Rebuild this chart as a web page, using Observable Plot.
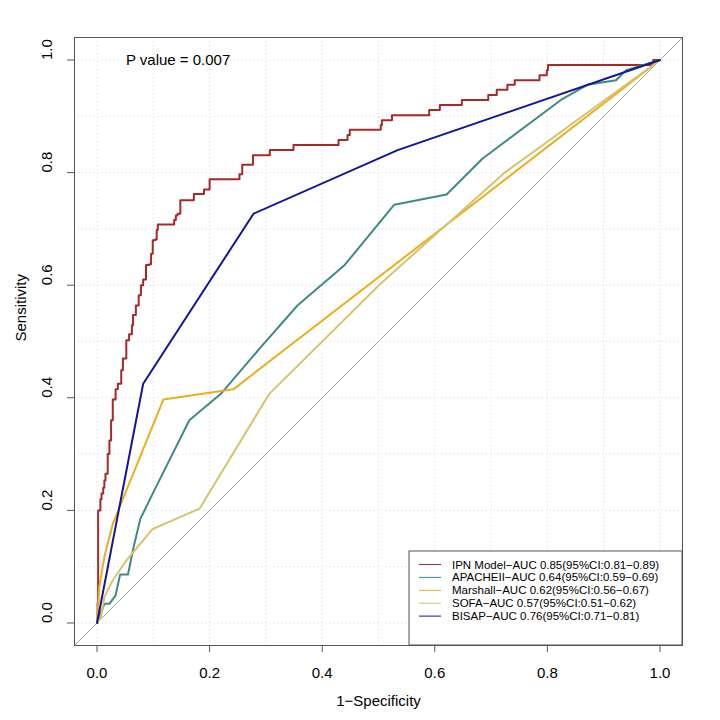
<!DOCTYPE html>
<html><head><meta charset="utf-8">
<script src="https://cdn.jsdelivr.net/npm/d3@7"></script>
<script src="https://cdn.jsdelivr.net/npm/@observablehq/plot@0.6"></script>
<style>body{margin:0;background:#fff}#chart{width:720px;height:720px}</style>
</head><body><div id="chart"></div>
<script>
// ---- data ----
const seriesNames = ["IPN Model", "APACHEII", "Marshall", "SOFA", "BISAP"];
const seriesColors = ["#A52A2A", "#3E8A85", "#EAAE1E", "#D4C56E", "#15159A"];
const legendLabels = [
  "IPN Model−AUC 0.85(95%CI:0.81−0.89)",
  "APACHEII−AUC 0.64(95%CI:0.59−0.69)",
  "Marshall−AUC 0.62(95%CI:0.56−0.67)",
  "SOFA−AUC 0.57(95%CI:0.51−0.62)",
  "BISAP−AUC 0.76(95%CI:0.71−0.81)"
];
const pValueText = "P value = 0.007";
const xTicks = [0, 0.2, 0.4, 0.6, 0.8, 1.0];
const yTicks = [0, 0.2, 0.4, 0.6, 0.8, 1.0];
const gridTicks = [0, 0.1, 0.2, 0.3, 0.4, 0.5, 0.6, 0.7, 0.8, 0.9, 1.0];
const axisDomain = [-0.04, 1.04];

const ipnFpr = [0,0.001,0.002,0.006,0.008,0.011,0.013,0.015,0.019,0.022,0.025,0.028,0.033,0.037,0.043,0.046,0.052,0.057,0.062,0.064,0.069,0.074,0.078,0.082,0.087,0.093,0.096,0.099,0.103,0.106,0.108,0.134,0.137,0.14,0.143,0.148,0.148,0.172,0.172,0.188,0.19,0.198,0.2,0.25,0.253,0.258,0.275,0.277,0.306,0.307,0.348,0.349,0.428,0.429,0.442,0.445,0.449,0.503,0.504,0.506,0.523,0.524,0.588,0.59,0.608,0.609,0.647,0.648,0.694,0.695,0.709,0.71,0.728,0.729,0.741,0.742,0.785,0.786,0.797,0.799,0.801,0.987,0.988,1];
const ipnTpr = [0,0.035,0.2,0.22,0.23,0.24,0.253,0.265,0.3,0.324,0.36,0.397,0.415,0.425,0.449,0.47,0.502,0.513,0.529,0.547,0.564,0.582,0.6,0.61,0.636,0.637,0.656,0.68,0.681,0.698,0.708,0.708,0.716,0.724,0.727,0.727,0.751,0.751,0.762,0.762,0.77,0.77,0.788,0.788,0.797,0.814,0.814,0.831,0.831,0.84,0.84,0.849,0.849,0.858,0.858,0.867,0.876,0.876,0.884,0.893,0.893,0.902,0.902,0.911,0.911,0.92,0.92,0.929,0.929,0.938,0.938,0.947,0.947,0.956,0.956,0.964,0.964,0.973,0.973,0.982,0.991,0.991,1,1];

const apacheFpr = [0,0.013,0.022,0.033,0.041,0.055,0.065,0.077,0.102,0.164,0.22,0.291,0.356,0.44,0.528,0.621,0.685,0.824,0.871,0.922,0.94,1];
const apacheTpr = [0,0.034,0.034,0.049,0.086,0.086,0.135,0.185,0.236,0.36,0.407,0.49,0.564,0.636,0.743,0.761,0.825,0.929,0.956,0.964,0.982,1];

const marshallFpr = [0,0.004,0.013,0.028,0.118,0.242,1];
const marshallTpr = [0,0.064,0.117,0.176,0.397,0.415,1];

const sofaFpr = [0,0.007,0.013,0.028,0.052,0.099,0.182,0.306,0.504,0.723,1];
const sofaTpr = [0,0.01,0.046,0.076,0.111,0.167,0.203,0.407,0.603,0.799,1];

const bisapFpr = [0,0.082,0.278,0.534,1];
const bisapTpr = [0,0.425,0.727,0.84,1];

// ---- build table ----
const seriesFpr = [ipnFpr, apacheFpr, marshallFpr, sofaFpr, bisapFpr];
const seriesTpr = [ipnTpr, apacheTpr, marshallTpr, sofaTpr, bisapTpr];
const rows = seriesNames.flatMap((name, i) =>
  seriesFpr[i].map((f, j) => ({series: name, fpr: f, tpr: seriesTpr[i][j]})));
const stepRows = rows.filter(d => d.series === "IPN Model");
const lineRows = rows.filter(d => d.series !== "IPN Model");

const fmt = d3.format(".1f");
const font = "'Liberation Sans', Arial, Helvetica, sans-serif";
const W = 720, H = 720;

const plot = Plot.plot({
  width: W, height: H,
  marginLeft: 74, marginRight: 38, marginTop: 37, marginBottom: 75,
  style: {fontFamily: font, background: "#fff", color: "#000"},
  x: {domain: axisDomain},
  y: {domain: axisDomain},
  color: {domain: seriesNames, range: seriesColors},
  marks: [
    Plot.ruleX(gridTicks, {stroke: "#d6d6d6", strokeDasharray: "1,3", strokeWidth: 1}),
    Plot.ruleY(gridTicks, {stroke: "#d6d6d6", strokeDasharray: "1,3", strokeWidth: 1}),
    Plot.line(axisDomain, {x: d => d, y: d => d, stroke: "#a8a8a8", strokeWidth: 1}),
    Plot.line(stepRows, {x: "fpr", y: "tpr", z: "series", stroke: "series", strokeWidth: 2, curve: "step-after"}),
    Plot.line(lineRows, {x: "fpr", y: "tpr", z: "series", stroke: "series", strokeWidth: 2}),
    Plot.frame({stroke: "#555", strokeWidth: 1}),
    Plot.axisX({ticks: xTicks, tickSize: 7, tickFormat: () => "", label: null, stroke: "#555"}),
    Plot.axisY({ticks: yTicks, tickSize: 7, tickFormat: () => "", label: null, stroke: "#555"}),
    Plot.text(xTicks, {x: d => d, frameAnchor: "bottom", dy: 28, text: d => fmt(d), fontSize: 15, lineAnchor: "middle", fill: "#000"}),
    Plot.text(yTicks, {y: d => d, frameAnchor: "left", dx: -27, rotate: -90, text: d => fmt(d), fontSize: 15, lineAnchor: "middle", fill: "#000"}),
    Plot.text(["1−Specificity"], {x: () => 0.5, frameAnchor: "bottom", dy: 56, text: d => d, fontSize: 15, lineAnchor: "middle", fill: "#000"}),
    Plot.text(["Sensitivity"], {y: () => 0.5, frameAnchor: "left", dx: -53, rotate: -90, text: d => d, fontSize: 15, lineAnchor: "middle", fill: "#000"}),
    Plot.text([pValueText], {x: () => 0.144, y: () => 1.0, text: d => d, fontSize: 15, lineAnchor: "middle", fill: "#000"})
  ]
});

// ---- legend (inside plot, bottom-right corner) ----
const xs = plot.scale("x"), ys = plot.scale("y");
const legRight = xs.apply(axisDomain[1]);
const legBottom = ys.apply(axisDomain[0]);
const legW = 273, legH = 94, rowH = 12.9;
const legLeft = legRight - legW, legTop = legBottom - legH;
const svg = d3.select(plot);
const g = svg.append("g").attr("font-family", font).attr("font-size", 11.5).attr("text-anchor", "start");
g.append("rect").attr("x", legLeft).attr("y", legTop).attr("width", legW).attr("height", legH)
  .attr("fill", "#fff").attr("stroke", "#555").attr("stroke-width", 1);
legendLabels.forEach((lab, i) => {
  const cy = legTop + 13.5 + i * rowH;
  g.append("line").attr("x1", legLeft + 10).attr("x2", legLeft + 32).attr("y1", cy).attr("y2", cy)
    .attr("stroke", seriesColors[i]).attr("stroke-width", 1);
  g.append("text").attr("x", legLeft + 43).attr("y", cy).attr("dy", "0.35em")
    .attr("text-anchor", "start").attr("fill", "#000").text(lab);
});

document.getElementById("chart").appendChild(plot);
</script>
</body></html>
